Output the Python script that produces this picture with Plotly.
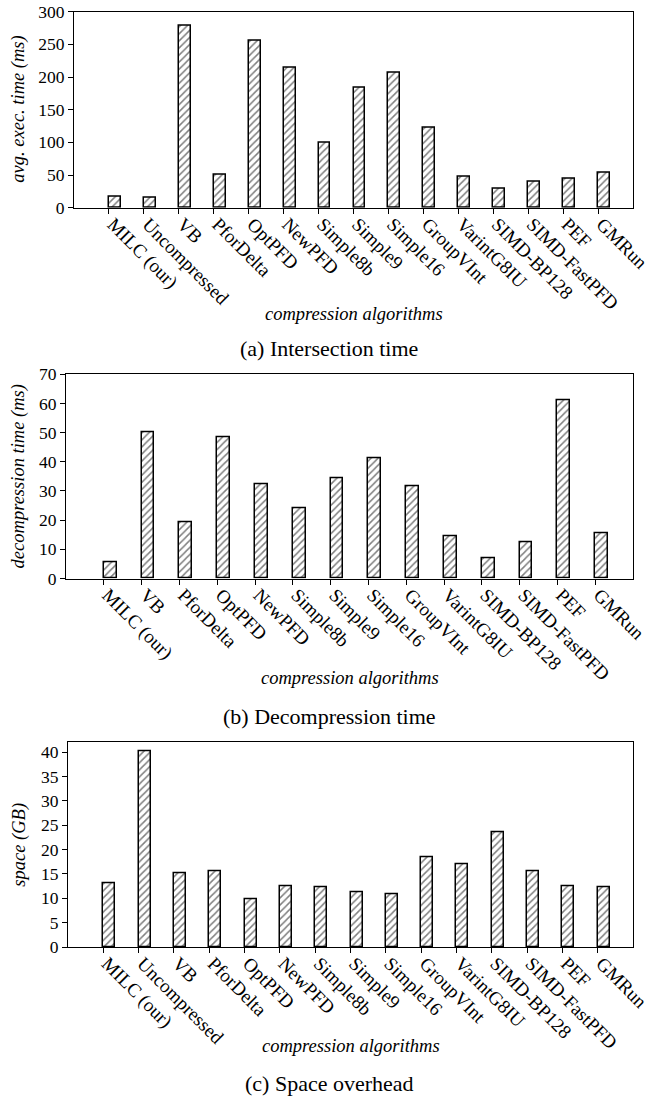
import plotly.graph_objects as go

W, H = 657, 1098

cats_a = ["MILC (our)", "Uncompressed", "VB", "PforDelta", "OptPFD", "NewPFD", "Simple8b",
          "Simple9", "Simple16", "GroupVInt", "VarintG8IU", "SIMD-BP128", "SIMD-FastPFD", "PEF", "GMRun"]
vals_a = [17, 16, 278, 51, 256, 214, 100, 183, 206, 123, 48, 29, 40, 44, 54]

cats_b = ["MILC (our)", "VB", "PforDelta", "OptPFD", "NewPFD", "Simple8b",
          "Simple9", "Simple16", "GroupVInt", "VarintG8IU", "SIMD-BP128", "SIMD-FastPFD", "PEF", "GMRun"]
vals_b = [5.5, 50.2, 19.1, 48.4, 32.3, 24.2, 34.3, 41.2, 31.5, 14.4, 7.0, 12.3, 61.0, 15.5]

cats_c = cats_a
vals_c = [13.0, 40.2, 15.2, 15.5, 9.7, 12.4, 12.2, 11.2, 10.8, 18.5, 16.9, 23.5, 15.5, 12.4, 12.2]

ytitles = ["avg. exec. time (ms)", "decompression time (ms)", "space (GB)"]
xtitle = "compression algorithms"
captions = ["(a) Intersection time", "(b) Decompression time", "(c) Space overhead"]

SERIF = "Liberation Serif"

# pixel boxes: (left, right, top, bottom)
boxes = [(74, 633, 11.7, 207.7), (66, 633, 374.3, 578.5), (68, 633, 742.3, 947.0)]
yranges = [(0, 300, 50), (0, 70, 10), (0, 42, 5)]
xtitle_y = [314, 678, 1046]
caption_y = [348, 716, 1083]
ytitle_x = [19, 18, 20]

fig = go.Figure()
datasets = [(cats_a, vals_a), (cats_b, vals_b), (cats_c, vals_c)]
for i, (cats, vals) in enumerate(datasets):
    sfx = "" if i == 0 else str(i + 1)
    fig.add_trace(go.Bar(
        x=cats, y=vals, xaxis="x" + sfx, yaxis="y" + sfx,
        width=0.34, offset=0,
        marker=dict(color="white", line=dict(color="black", width=1.5),
                    pattern=dict(shape="/", fgcolor="black", bgcolor="white", size=5, solidity=0.3)),
        showlegend=False, hoverinfo="skip",
    ))
    l, r, t, b = boxes[i]
    y0, y1, dt = yranges[i]
    ax = dict(
        domain=[l / W, r / W], anchor="y" + sfx, type="category", automargin=False,
        range=[-1, len(cats)], showline=True, mirror=True, linecolor="black", linewidth=1.2,
        ticks="outside", ticklen=5, tickcolor="black", tickwidth=1.2, tickangle=45,
        ticklabelstandoff=-8, ticklabelshift=4,
        tickfont=dict(family=SERIF, size=19, color="black"), showgrid=False, zeroline=False,
    )
    ay = dict(
        domain=[1 - b / H, 1 - t / H], anchor="x" + sfx, range=[y0, y1], dtick=dt, tick0=0,
        automargin=False,
        showline=True, mirror=True, linecolor="black", linewidth=1.2,
        ticks="outside", ticklen=5, tickcolor="black", tickwidth=1.2,
        tickfont=dict(family=SERIF, size=17.5, color="black"), showgrid=False, zeroline=False,
    )
    fig.update_layout({"xaxis" + sfx: ax, "yaxis" + sfx: ay})
    fig.add_annotation(x=ytitle_x[i] / W, y=1 - (t + b) / 2 / H, xref="paper", yref="paper",
                       text=ytitles[i], textangle=-90, showarrow=False, xanchor="center", yanchor="middle",
                       font=dict(family=SERIF, size=18.5, style="italic", color="black"))
    fig.add_annotation(x=(l + r) / 2 / W, y=1 - xtitle_y[i] / H, xref="paper", yref="paper",
                       text=xtitle, showarrow=False, xanchor="center", yanchor="middle",
                       font=dict(family=SERIF, size=18.5, style="italic", color="black"))
    fig.add_annotation(x=329 / W, y=1 - caption_y[i] / H, xref="paper", yref="paper",
                       text=captions[i], showarrow=False, xanchor="center", yanchor="middle",
                       font=dict(family=SERIF, size=22, color="black"))

fig.update_layout(width=W, height=H, margin=dict(l=0, r=0, t=0, b=0, autoexpand=False),
                  paper_bgcolor="white", plot_bgcolor="white", bargap=0)

fig.write_html("out.html", config={"displayModeBar": False},
               post_script="document.body.style.margin='0';")
